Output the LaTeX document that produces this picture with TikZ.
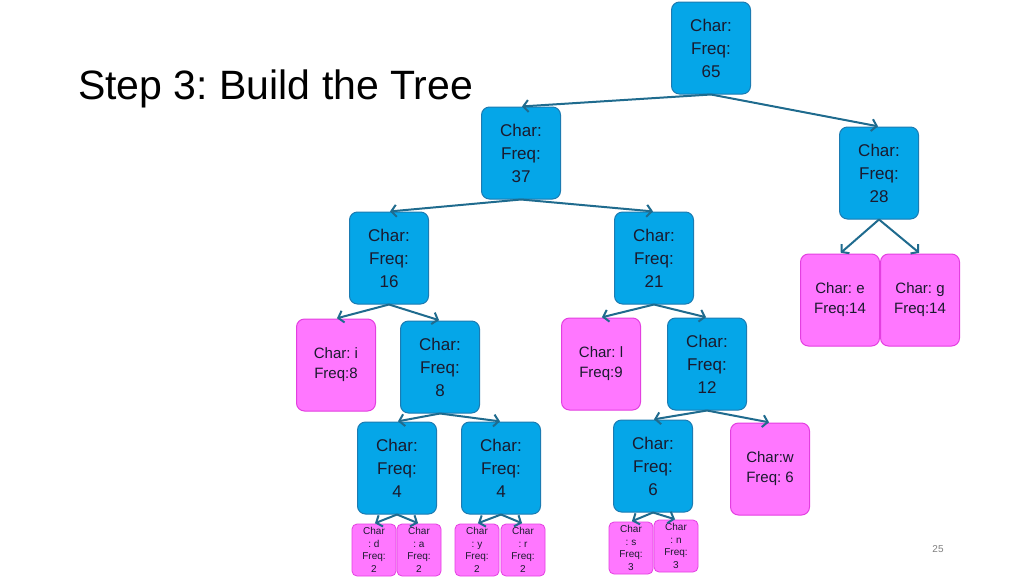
\documentclass[tikz,border=0pt]{standalone}
\usepackage{fontspec}
\setmainfont{Liberation Sans}
\frenchspacing
\usetikzlibrary{arrows.meta}
\definecolor{bfill}{HTML}{05A6E8}
\definecolor{bdraw}{HTML}{1B7BB2}
\definecolor{pfill}{HTML}{FF77FF}
\definecolor{pdraw}{HTML}{E33FE0}
\definecolor{edgec}{HTML}{1F6B8E}
\definecolor{txt}{HTML}{1A1A2E}
\tikzset{
  bnode/.style={draw=bdraw, fill=bfill, line width=1pt, rounded corners=8pt,
    minimum width=79pt, minimum height=92pt, inner sep=0pt, align=center,
    text=txt, font=\fontsize{17}{23}\selectfont},
  pnode/.style={draw=pdraw, fill=pfill, line width=1pt, rounded corners=8pt,
    minimum width=79pt, minimum height=92pt, inner sep=0pt, align=center,
    text=txt, font=\fontsize{15}{20}\selectfont},
  snode/.style={draw=pdraw, fill=pfill, line width=0.8pt, rounded corners=5pt,
    minimum width=44pt, minimum height=52pt, inner sep=0pt, align=center,
    text=txt, font=\fontsize{10}{12.5}\selectfont},
  edge/.style={draw=edgec, line width=2pt, -{Straight Barb[length=5pt,width=12pt]}, shorten >=1pt}
}
\begin{document}
\begin{tikzpicture}[x=1pt,y=-1pt]
\useasboundingbox[fill=white] (0,0) rectangle (1024,576);
\node[anchor=base west, inner sep=0pt, font=\fontsize{41}{50}\selectfont] (title) at (78,99) {Step 3: Build the Tree};
\node[anchor=center, text=gray, font=\fontsize{10}{12}\selectfont] (pg) at (938,549) {25};

\node[bnode] (n65) at (711,48) {Char:\\Freq:\\65};
\node[bnode] (n37) at (521,153) {Char:\\Freq:\\37};
\node[bnode] (n28) at (879,173) {Char:\\Freq:\\28};
\node[bnode] (n16) at (389,258) {Char:\\Freq:\\16};
\node[bnode] (n21) at (654,258) {Char:\\Freq:\\21};
\node[pnode] (ne) at (840,300) {Char: e\\Freq:14};
\node[pnode] (ng) at (920,300) {Char: g\\Freq:14};
\node[pnode] (ni) at (336,365) {Char: i\\Freq:8};
\node[bnode] (n8) at (440,367) {Char:\\Freq:\\8};
\node[pnode] (nl) at (601,364) {Char: l\\Freq:9};
\node[bnode] (n12) at (707,364) {Char:\\Freq:\\12};
\node[bnode] (n4a) at (397,468) {Char:\\Freq:\\4};
\node[bnode] (n4b) at (501,468) {Char:\\Freq:\\4};
\node[bnode] (n6) at (653,466) {Char:\\Freq:\\6};
\node[pnode] (nw) at (770,469) {Char:w\\Freq: 6};
\node[snode] (nd) at (374,550) {Char\\: d\\Freq:\\2};
\node[snode] (na) at (419,550) {Char\\: a\\Freq:\\2};
\node[snode] (ny) at (477,550) {Char\\: y\\Freq:\\2};
\node[snode] (nr) at (523,550) {Char\\: r\\Freq:\\2};
\node[snode] (ns) at (631,548) {Char\\: s\\Freq:\\3};
\node[snode] (nn) at (676,546) {Char\\: n\\Freq:\\3};

\draw[edge] (n65.south) -- (n37.north);
\draw[edge] (n65.south) -- (n28.north);
\draw[edge] (n37.south) -- (n16.north);
\draw[edge] (n37.south) -- (n21.north);
\draw[edge] (n28.south) -- (ne.north);
\draw[edge] (n28.south) -- (ng.north);
\draw[edge] (n16.south) -- (ni.north);
\draw[edge] (n16.south) -- (n8.north);
\draw[edge] (n21.south) -- (nl.north);
\draw[edge] (n21.south) -- (n12.north);
\draw[edge] (n8.south) -- (n4a.north);
\draw[edge] (n8.south) -- (n4b.north);
\draw[edge] (n12.south) -- (n6.north);
\draw[edge] (n12.south) -- (nw.north);
\draw[edge] (n4a.south) -- (nd.north);
\draw[edge] (n4a.south) -- (na.north);
\draw[edge] (n4b.south) -- (ny.north);
\draw[edge] (n4b.south) -- (nr.north);
\draw[edge] (n6.south) -- (ns.north);
\draw[edge] (n6.south) -- (nn.north);
\end{tikzpicture}
\end{document}
